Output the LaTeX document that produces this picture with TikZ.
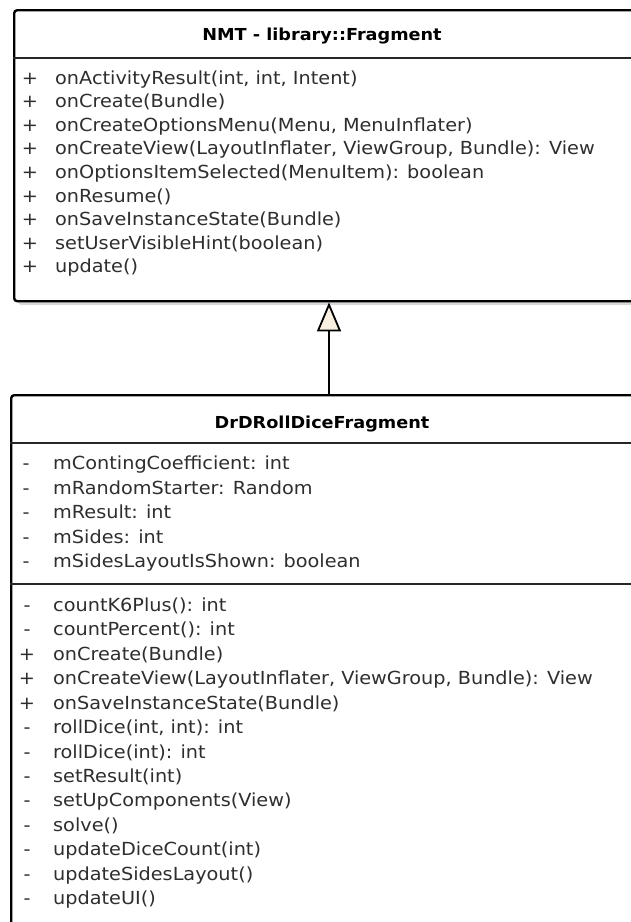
\documentclass[tikz,border=0pt]{standalone}
\usepackage{fontspec}
\setmainfont[FakeStretch=1.07]{DejaVu Sans}
\usetikzlibrary{arrows.meta}
\definecolor{membertext}{HTML}{2E2E2E}
\definecolor{arrowfill}{HTML}{FAF0E1}
\definecolor{shadowgray}{HTML}{D8D8D8}
\tikzset{
  classbox/.style={draw=black, line width=2.4pt, rounded corners=3pt, fill=white,
    inner sep=0pt, anchor=north west},
  boxshadow/.style={fill=shadowgray, draw=none, rounded corners=3pt},
  classtitle/.style={font=\fontsize{16.5}{20}\selectfont\bfseries, text=black, inner sep=0pt, anchor=base},
  member/.style={font=\fontsize{18}{22}\selectfont, text=membertext, inner sep=0pt, anchor=base west},
  vis/.style={font=\fontsize{18}{22}\selectfont, text=membertext, inner sep=0pt, anchor=base},
  sepline/.style={draw=black!85, line width=2pt},
  inherit/.style={draw=black, line width=1.8pt,
    -{Triangle[length=29pt,width=24pt,fill=arrowfill]}},
}
\begin{document}
\begin{tikzpicture}[x=1pt,y=-1pt]
\useasboundingbox (0,0) rectangle (631,922);
\clip (0,0) rectangle (631,922);

% drop shadows
\fill[boxshadow] (18,14) rectangle (640,305);
\fill[boxshadow] (15,399) rectangle (640,940);

% superclass
\node[classbox, minimum width=620pt, minimum height=291pt] (parent) at (13,9) {};
\node[classtitle] (parentname) at (322,40) {NMT - library::Fragment};
\draw[sepline] (parent.west |- 0,58) coordinate (ps1) -- (parent.east |- 0,58) coordinate (ps2);
\foreach \s/\t [count=\i from 0] in {
  {+}/{onActivityResult(int, int, Intent)},
  {+}/{onCreate(Bundle)},
  {+}/{onCreateOptionsMenu(Menu, MenuInflater)},
  {+}/{onCreateView(LayoutInflater, ViewGroup, Bundle): View},
  {+}/{onOptionsItemSelected(MenuItem): boolean},
  {+}/{onResume()},
  {+}/{onSaveInstanceState(Bundle)},
  {+}/{setUserVisibleHint(boolean)},
  {+}/{update()}}
{
  \node[vis] (pv\i) at (30,84+23.6*\i) {\s};
  \node[member] (pm\i) at (55,84+23.6*\i) {\t};
}

% subclass
\node[classbox, minimum width=625pt, minimum height=540pt] (child) at (10,394) {};
\node[classtitle] (childname) at (322,428) {DrDRollDiceFragment};
\draw[sepline] (child.west |- 0,443) coordinate (cs1) -- (child.east |- 0,443) coordinate (cs2);
\foreach \s/\t [count=\i from 0] in {
  {-}/{mContingCoefficient: int},
  {-}/{mRandomStarter: Random},
  {-}/{mResult: int},
  {-}/{mSides: int},
  {-}/{mSidesLayoutIsShown: boolean}}
{
  \node[vis] (av\i) at (26,469.5+24.6*\i) {\s};
  \node[member] (am\i) at (53,469.5+24.6*\i) {\t};
}
\draw[sepline] (child.west |- 0,584) coordinate (cs3) -- (child.east |- 0,584) coordinate (cs4);
\foreach \s/\t [count=\i from 0] in {
  {-}/{countK6Plus(): int},
  {-}/{countPercent(): int},
  {+}/{onCreate(Bundle)},
  {+}/{onCreateView(LayoutInflater, ViewGroup, Bundle): View},
  {+}/{onSaveInstanceState(Bundle)},
  {-}/{rollDice(int, int): int},
  {-}/{rollDice(int): int},
  {-}/{setResult(int)},
  {-}/{setUpComponents(View)},
  {-}/{solve()},
  {-}/{updateDiceCount(int)},
  {-}/{updateSidesLayout()},
  {-}/{updateUI()}}
{
  \node[vis] (mv\i) at (27,611.5+24.42*\i) {\s};
  \node[member] (mm\i) at (53,611.5+24.42*\i) {\t};
}

% generalization
\coordinate (ax) at (329,0);
\draw[inherit] (child.north -| ax) -- (parent.south -| ax);
\end{tikzpicture}
\end{document}
